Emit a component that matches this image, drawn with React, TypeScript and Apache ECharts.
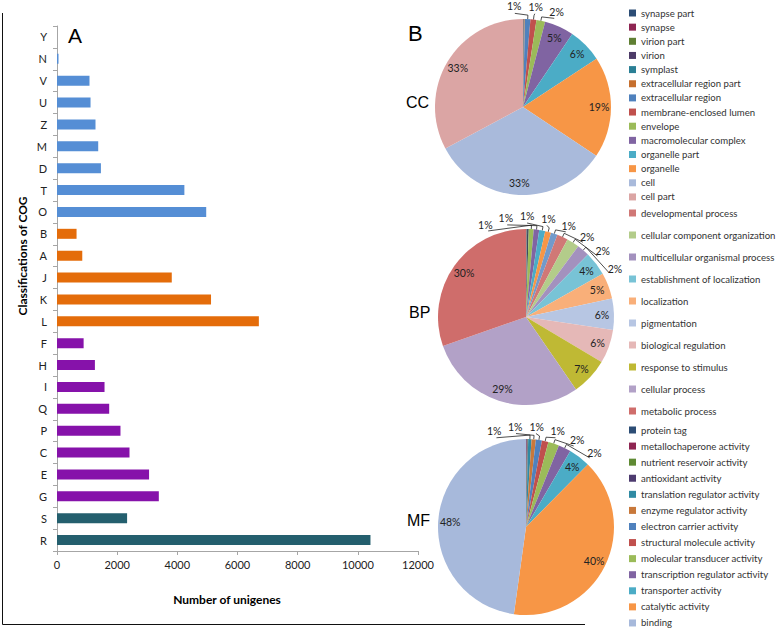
import { useEffect, useRef } from "react";
import * as echarts from "echarts";

// ---------- Panel A: COG classification (bottom to top) ----------
const cogCategories = ["R", "S", "G", "E", "C", "P", "Q", "I", "H", "F", "L", "K", "J", "A", "B", "O", "T", "D", "M", "Z", "U", "V", "N", "Y"];
const cogCounts = [10420, 2330, 3385, 3060, 2410, 2110, 1735, 1580, 1260, 885, 6710, 5120, 3815, 840, 650, 4960, 4235, 1460, 1370, 1280, 1115, 1080, 50, 0];
const cogGroups = [
  "Poorly characterized", "Poorly characterized",
  "Metabolism", "Metabolism", "Metabolism", "Metabolism", "Metabolism", "Metabolism", "Metabolism", "Metabolism",
  "Information storage and processing", "Information storage and processing", "Information storage and processing",
  "Information storage and processing", "Information storage and processing",
  "Cellular processes and signaling", "Cellular processes and signaling", "Cellular processes and signaling",
  "Cellular processes and signaling", "Cellular processes and signaling", "Cellular processes and signaling",
  "Cellular processes and signaling", "Cellular processes and signaling", "Cellular processes and signaling",
];
const xMin = 0;
const xMax = 12000;
const xInterval = 2000;

// ---------- Panel B: GO pies (percent of unigenes) ----------
const ccNames = ["synapse part", "synapse", "virion part", "virion", "symplast", "extracellular region part", "extracellular region", "membrane-enclosed lumen", "envelope", "macromolecular complex", "organelle part", "organelle", "cell", "cell part"];
const ccValues = [0.05, 0.05, 0.05, 0.05, 0.05, 0.1, 1.0, 1.1, 1.6, 5.4, 6.3, 18.6, 32.8, 32.8];

const bpNames = ["rhythmic process", "locomotion", "growth", "immune system process", "reproduction", "reproductive process", "multi-organism process", "developmental process", "cellular component organization", "multicellular organismal process", "establishment of localization", "localization", "pigmentation", "biological regulation", "response to stimulus", "cellular process", "metabolic process"];
const bpValues = [0.2, 0.3, 0.9, 1.0, 1.1, 1.1, 1.2, 2.0, 2.3, 2.3, 4.4, 4.8, 5.7, 6.2, 6.8, 29.2, 30.3];
const bpLegendNames = ["developmental process", "cellular component organization", "multicellular organismal process", "establishment of localization", "localization", "pigmentation", "biological regulation", "response to stimulus", "cellular process", "metabolic process"];

const mfNames = ["protein tag", "metallochaperone activity", "nutrient reservoir activity", "antioxidant activity", "translation regulator activity", "enzyme regulator activity", "electron carrier activity", "structural molecule activity", "molecular transducer activity", "transcription regulator activity", "transporter activity", "catalytic activity", "binding"];
const mfValues = [0.1, 0.1, 0.1, 0.1, 0.6, 0.8, 1.1, 1.2, 2.0, 2.3, 4.0, 39.8, 47.8];

// ---------- styles ----------
const groupColor: Record<string, string> = {
  "Cellular processes and signaling": "#558ED5",
  "Information storage and processing": "#E46C0A",
  "Metabolism": "#8612AA",
  "Poorly characterized": "#245F6E",
};
const ccColors = ["#2C4D75", "#8E2552", "#5F7F33", "#4D3B68", "#2A7F95", "#C66F2E", "#4F81BD", "#C0504D", "#9BBB59", "#8064A2", "#4BACC6", "#F79646", "#A9BADB", "#DBA5A4"];
const bpColors = ["#8C8C8C", "#3B4A5E", "#9BBB59", "#8064A2", "#4BACC6", "#F79646", "#729ACA", "#D07876", "#B3CC8A", "#A391BE", "#78C3D6", "#F9AF79", "#B7C6E3", "#E5B8B7", "#BFB934", "#B2A1C7", "#CF6D6B"];
const mfColors = ["#2C4D75", "#8E2552", "#5F8A33", "#4D3B6F", "#2F8AA3", "#C8783A", "#4F81BD", "#C0504D", "#9BBB59", "#8064A2", "#4BACC6", "#F79646", "#A7B9DB"];

const FONT = "Lato, 'Open Sans', sans-serif";
const ARIAL = "'Liberation Sans', Arial, sans-serif";

// spread desired angles so neighbours are at least d apart, keeping clusters centred
function spread(desired: number[], d: number): number[] {
  type C = { items: number[]; start: number };
  const clusters: C[] = [];
  desired.forEach((v, idx) => {
    clusters.push({ items: [idx], start: v });
    while (clusters.length > 1) {
      const prev = clusters[clusters.length - 2];
      const cur = clusters[clusters.length - 1];
      const prevEnd = prev.start + (prev.items.length - 1) * d;
      if (cur.start - prevEnd >= d) break;
      const items = prev.items.concat(cur.items);
      const start = items.reduce((s, it, k) => s + desired[it] - k * d, 0) / items.length;
      clusters.splice(clusters.length - 2, 2, { items, start });
    }
  });
  const out: number[] = new Array(desired.length);
  clusters.forEach((c) => c.items.forEach((it, k) => (out[it] = c.start + k * d)));
  return out;
}

function pieSeries(names: string[], values: number[], colors: string[], center: number[]) {
  const total = values.reduce((a, b) => a + b, 0);
  const rOuter = 88;
  const rLabel = 101;
  const [cx, cy] = center;
  const mids: number[] = [];
  let acc = 0;
  values.forEach((v) => {
    const a = (v / total) * 2 * Math.PI;
    mids.push(acc + a / 2);
    acc += a;
  });
  const pcts = values.map((v) => (v / total) * 100);
  const outsideIdx = pcts.map((p, i) => (p >= 0.5 && p < 3 ? i : -1)).filter((i) => i >= 0);
  const placed = spread(outsideIdx.map((i) => mids[i]), 21.5 / rLabel);
  const placeMap = new Map<number, number>();
  outsideIdx.forEach((i, k) => placeMap.set(i, placed[k]));
  const polar = (rho: number, th: number) => [cx + rho * Math.sin(th), cy - rho * Math.cos(th)];

  const base = {
    type: "pie",
    center,
    startAngle: 90,
    clockwise: true,
    avoidLabelOverlap: false,
    emphasis: { disabled: true },
  };
  const main = {
    ...base,
    radius: rOuter,
    label: { show: false },
    labelLine: { show: false },
    itemStyle: { borderWidth: 0 },
    data: names.map((n, i) => ({ name: n, value: values[i], itemStyle: { color: colors[i] } })),
  };
  const labels = {
    ...base,
    radius: [58, rOuter],
    silent: true,
    itemStyle: { color: "rgba(0,0,0,0)", borderWidth: 0 },
    label: {
      fontFamily: FONT,
      fontSize: 10.5,
      color: "#222",
      formatter: (p: any) => Math.round(p.percent) + "%",
    },
    labelLine: { length: 5, length2: 6, lineStyle: { color: "#222", width: 0.8 } },
    labelLayout: (p: any) => {
      const phi = placeMap.get(p.dataIndex);
      if (phi === undefined) return {};
      const th = mids[p.dataIndex];
      const [x, y] = polar(rLabel, phi);
      return {
        x,
        y,
        align: "center",
        verticalAlign: "middle",
        hideOverlap: false,
        labelLinePoints: [polar(rOuter, th), polar(rOuter + 4, th), polar(rLabel - 7, phi)],
      };
    },
    data: names.map((n, i) => {
      const d: any = { name: n, value: values[i], itemStyle: { color: "rgba(0,0,0,0)" } };
      if (pcts[i] < 0.5) return { ...d, label: { show: false }, labelLine: { show: false } };
      if (pcts[i] < 3) return { ...d, label: { show: true, position: "outside" }, labelLine: { show: true } };
      return { ...d, label: { show: true, position: "inside" }, labelLine: { show: false } };
    }),
  };
  return [main, labels];
}

export default function App() {
  const ref = useRef<HTMLDivElement>(null);
  useEffect(() => {
    if (!ref.current) return;
    const chart = echarts.init(ref.current, undefined, { renderer: "svg" });
    const legendBase = {
      orient: "vertical",
      left: 629,
      icon: "rect",
      itemWidth: 7,
      itemHeight: 7,
      padding: 0,
      selectedMode: false,
      textStyle: { fontFamily: FONT, fontSize: 9.6, color: "#333", lineHeight: 11 },
    };
    const option: any = {
      animation: false,
      backgroundColor: "#fff",
      grid: { left: 57, top: 26, width: 361, height: 525, containLabel: false },
      xAxis: {
        type: "value",
        min: xMin,
        max: xMax,
        interval: xInterval,
        axisLine: { show: true, lineStyle: { color: "#A6A6A6" } },
        axisTick: { show: true, length: 4, lineStyle: { color: "#A6A6A6" } },
        splitLine: { show: false },
        axisLabel: { fontFamily: FONT, fontSize: 11, color: "#222", margin: 8, formatter: (v: number) => String(v) },
      },
      yAxis: {
        type: "category",
        data: cogCategories,
        axisLine: { show: true, lineStyle: { color: "#A6A6A6" } },
        axisTick: { show: true, length: 4, lineStyle: { color: "#A6A6A6" } },
        axisLabel: { fontFamily: FONT, fontSize: 11, color: "#222", margin: 10 },
      },
      legend: [
        { ...legendBase, top: 7.5, itemGap: 3.15, data: ccNames },
        { ...legendBase, top: 207.5, itemGap: 11, data: bpLegendNames },
        { ...legendBase, top: 424.5, itemGap: 5.08, data: mfNames },
      ],
      series: [
        {
          type: "bar",
          barWidth: 10,
          data: cogCounts.map((v, i) => ({ value: v, itemStyle: { color: groupColor[cogGroups[i]] } })),
        },
        ...pieSeries(ccNames, ccValues, ccColors, [523, 107]),
        ...pieSeries(bpNames, bpValues, bpColors, [526, 317]),
        ...pieSeries(mfNames, mfValues, mfColors, [526, 527]),
      ],
      graphic: [
        { type: "polyline", shape: { points: [[2.5, 13], [2.5, 624.5], [585, 624.5]] }, style: { stroke: "#111", lineWidth: 1, fill: null } },
        { type: "text", x: 68, y: 35, style: { text: "A", font: `21px ${ARIAL}`, fill: "#000", verticalAlign: "middle" } },
        { type: "text", x: 408, y: 33.5, style: { text: "B", font: `22px ${ARIAL}`, fill: "#000", verticalAlign: "middle" } },
        { type: "text", x: 406, y: 102.5, style: { text: "CC", font: `16px ${ARIAL}`, fill: "#000", verticalAlign: "middle" } },
        { type: "text", x: 409, y: 312, style: { text: "BP", font: `16px ${ARIAL}`, fill: "#000", verticalAlign: "middle" } },
        { type: "text", x: 407, y: 520, style: { text: "MF", font: `16px ${ARIAL}`, fill: "#000", verticalAlign: "middle" } },
        {
          type: "text", x: 22, y: 256, rotation: Math.PI / 2,
          style: { text: "Classifications of COG", font: `bold 12px ${FONT}`, fill: "#000", align: "center", verticalAlign: "middle" },
        },
        { type: "text", x: 227, y: 599, style: { text: "Number of unigenes", font: `bold 12px ${FONT}`, fill: "#000", align: "center", verticalAlign: "middle" } },
      ],
    };
    chart.setOption(option);
    return () => chart.dispose();
  }, []);
  return <div ref={ref} style={{ position: "absolute", left: 0, top: 0, width: 778, height: 631 }} />;
}
